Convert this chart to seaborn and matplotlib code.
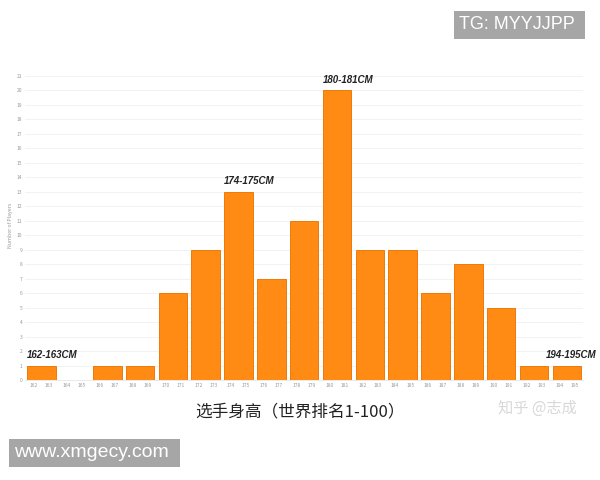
import numpy as np
import pandas as pd
import seaborn as sns
from matplotlib import pyplot as plt

sns.set_style("white")
plt.rcParams['font.family'] = ['Noto Sans CJK SC', 'DejaVu Sans']

# height bins (2 cm each) and number of players
bin_start = [162, 164, 166, 168, 170, 172, 174, 176, 178, 180, 182, 184, 186, 188, 190, 192, 194]
players = [1, 0, 1, 1, 6, 9, 13, 7, 11, 20, 9, 9, 6, 8, 5, 1, 1]
labelled_bins = [162, 174, 180, 194]

df = pd.DataFrame({'bin': [f'{b}-{b + 1}' for b in bin_start], 'players': players})

fig = plt.figure(figsize=(6, 4.8), dpi=100)
ax = fig.add_axes([0.042, 0.208, 0.930, 0.646])

bar_w = 0.87
sns.barplot(data=df, x='bin', y='players', color='#ff8a14', saturation=1,
            width=bar_w, edgecolor='#ee7a08', linewidth=0.7, ax=ax)

ax.set_xlim(-0.5, len(bin_start) - 0.5)
ax.set_ylim(0, 21.4)
ax.set_yticks(range(0, 22))
ax.grid(axis='y', color='#f0f0f0', linewidth=0.6)
ax.set_axisbelow(True)

# two tick labels per bar
pos, labs = [], []
for i, b in enumerate(bin_start):
    pos += [i - 0.23, i + 0.23]
    labs += [str(b), str(b + 1)]
ax.set_xticks(pos)
ax.set_xticklabels(labs)
ax.tick_params(axis='both', labelsize=3.5, colors='#999999', length=0, pad=2)
ax.set_xlabel('')
ax.set_ylabel('Number of Players', fontsize=3.8, color='#999999', labelpad=3)
for s in ['top', 'right', 'left']:
    ax.spines[s].set_visible(False)
ax.spines['bottom'].set_color('#e6e6e6')
ax.spines['bottom'].set_linewidth(0.6)

# bold italic labels above selected bars
last = len(bin_start) - 1
for b in labelled_bins:
    i = bin_start.index(b)
    v = players[i]
    if i == last:
        x, ha = i + 0.9, 'right'
    else:
        x, ha = i - bar_w / 2, 'left'
    ax.text(x, v + 0.4, f'{b}-{b + 1}CM', ha=ha, va='bottom',
            fontsize=7, fontweight='bold', fontstyle='italic', color='#222222',
            family=['Liberation Sans', 'DejaVu Sans'], clip_on=False)

fig.text(0.5, 0.142, '选手身高（世界排名1-100）', ha='center', va='center',
         fontsize=12, color='#222222', fontstyle='italic')
fig.text(0.895, 0.15, '知乎 @志成', ha='center', va='center', fontsize=11,
         color='#d8d8d8')
fig.text(0.765, 0.948, 'TG: MYYJJPP ', ha='left', va='center', fontsize=13,
         color='white', family=['Liberation Sans', 'DejaVu Sans'],
         bbox=dict(boxstyle='square,pad=0.3', facecolor='#a6a6a6', edgecolor='none'))
fig.text(0.024, 0.057, 'www.xmgecy.com ', ha='left', va='center', fontsize=14,
         color='white', family=['Liberation Sans', 'DejaVu Sans'],
         bbox=dict(boxstyle='square,pad=0.28', facecolor='#a6a6a6', edgecolor='none'))

fig.savefig('out.png', dpi=100)
plt.close()
